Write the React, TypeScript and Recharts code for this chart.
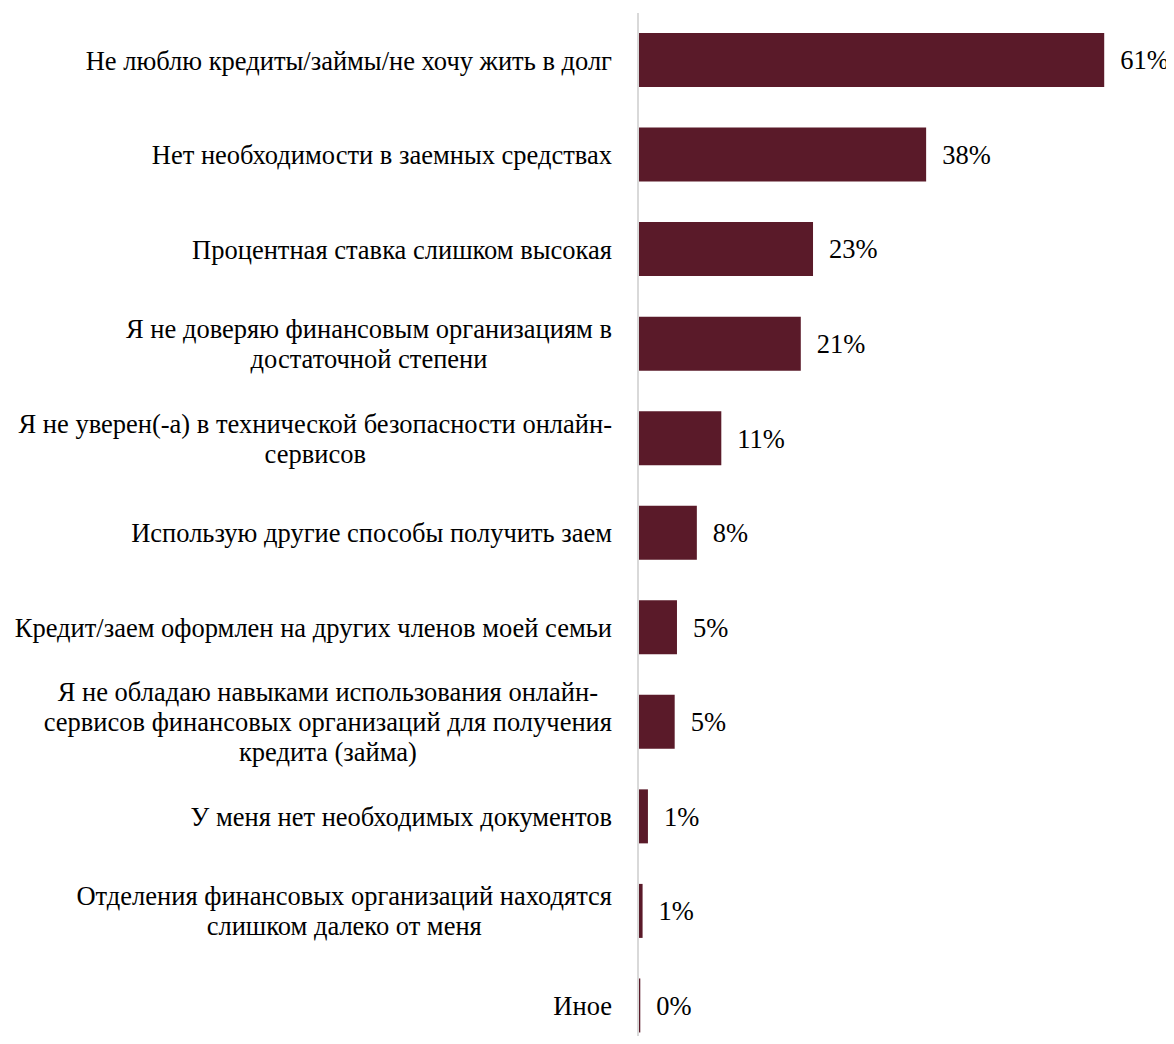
import { BarChart, Bar, XAxis, YAxis, LabelList } from "recharts";

const categories = [
    "Не люблю кредиты/займы/не хочу жить в долг",
    "Нет необходимости в заемных средствах",
    "Процентная ставка слишком высокая",
    "Я не доверяю финансовым организациям в\nдостаточной степени",
    "Я не уверен(-а) в технической безопасности онлайн-\nсервисов",
    "Использую другие способы получить заем",
    "Кредит/заем оформлен на других членов моей семьи",
    "Я не обладаю навыками использования онлайн-\nсервисов финансовых организаций для получения\nкредита (займа)",
    "У меня нет необходимых документов",
    "Отделения финансовых организаций находятся\nслишком далеко от меня",
    "Иное",
];

const shares = [61, 37.7, 22.9, 21.3, 10.9, 7.7, 5.1, 4.8, 1.3, 0.6, 0.3];

const data = categories.map((name, i) => ({ name, value: shares[i] }));

const FONT = "'Liberation Serif', 'Times New Roman', serif";
const FONT_SIZE = 26.5;
const LINE_H = 30;

let ctx: CanvasRenderingContext2D | null = null;
function textWidth(s: string) {
    if (!ctx) {
        ctx = document.createElement("canvas").getContext("2d");
    }
    if (!ctx) return s.length * FONT_SIZE * 0.45;
    ctx.font = `${FONT_SIZE}px ${FONT}`;
    return ctx.measureText(s).width;
}

// multi-line labels: block is right aligned, lines centered inside it
const CategoryTick = ({ x, y, payload }: any) => {
    const lines: string[] = String(payload.value).split("\n");
    const maxW = Math.max(...lines.map(textWidth));
    const cx = x - maxW / 2;
    const start = -((lines.length - 1) / 2) * LINE_H;
    return (
        <text x={cx} y={y} textAnchor="middle" fontFamily={FONT} fontSize={FONT_SIZE} fill="#000">
            {lines.map((l, i) => (
                <tspan key={i} x={cx} y={y + start + i * LINE_H} dy="0.35em">
                    {l}
                </tspan>
            ))}
        </text>
    );
};

export default function App() {
    // the last row runs off the bottom of the picture, so clip it there
    return (
        <div style={{ width: 1166, height: 1028, overflow: "hidden" }}>
            <BarChart
                width={1166}
                height={1050}
                data={data}
                layout="vertical"
                margin={{ top: 5, right: 1, bottom: 5, left: 0 }}
                barSize={54}
                style={{ overflow: "visible" }}
            >
                <XAxis type="number" domain={[0, 70]} hide />
                <YAxis
                    type="category"
                    dataKey="name"
                    width={630}
                    axisLine={{ stroke: "#d9d9d9", strokeWidth: 2 }}
                    tickLine={false}
                    tickSize={0}
                    tickMargin={26}
                    interval={0}
                    tick={<CategoryTick />}
                />
                <Bar dataKey="value" fill="#5a1a29" isAnimationActive={false}>
                    <LabelList
                        dataKey="value"
                        position="right"
                        offset={16}
                        formatter={(v: any) => `${Math.round(Number(v))}%`}
                        style={{ fontFamily: FONT, fontSize: FONT_SIZE, fill: "#000" }}
                    />
                </Bar>
            </BarChart>
        </div>
    );
}
